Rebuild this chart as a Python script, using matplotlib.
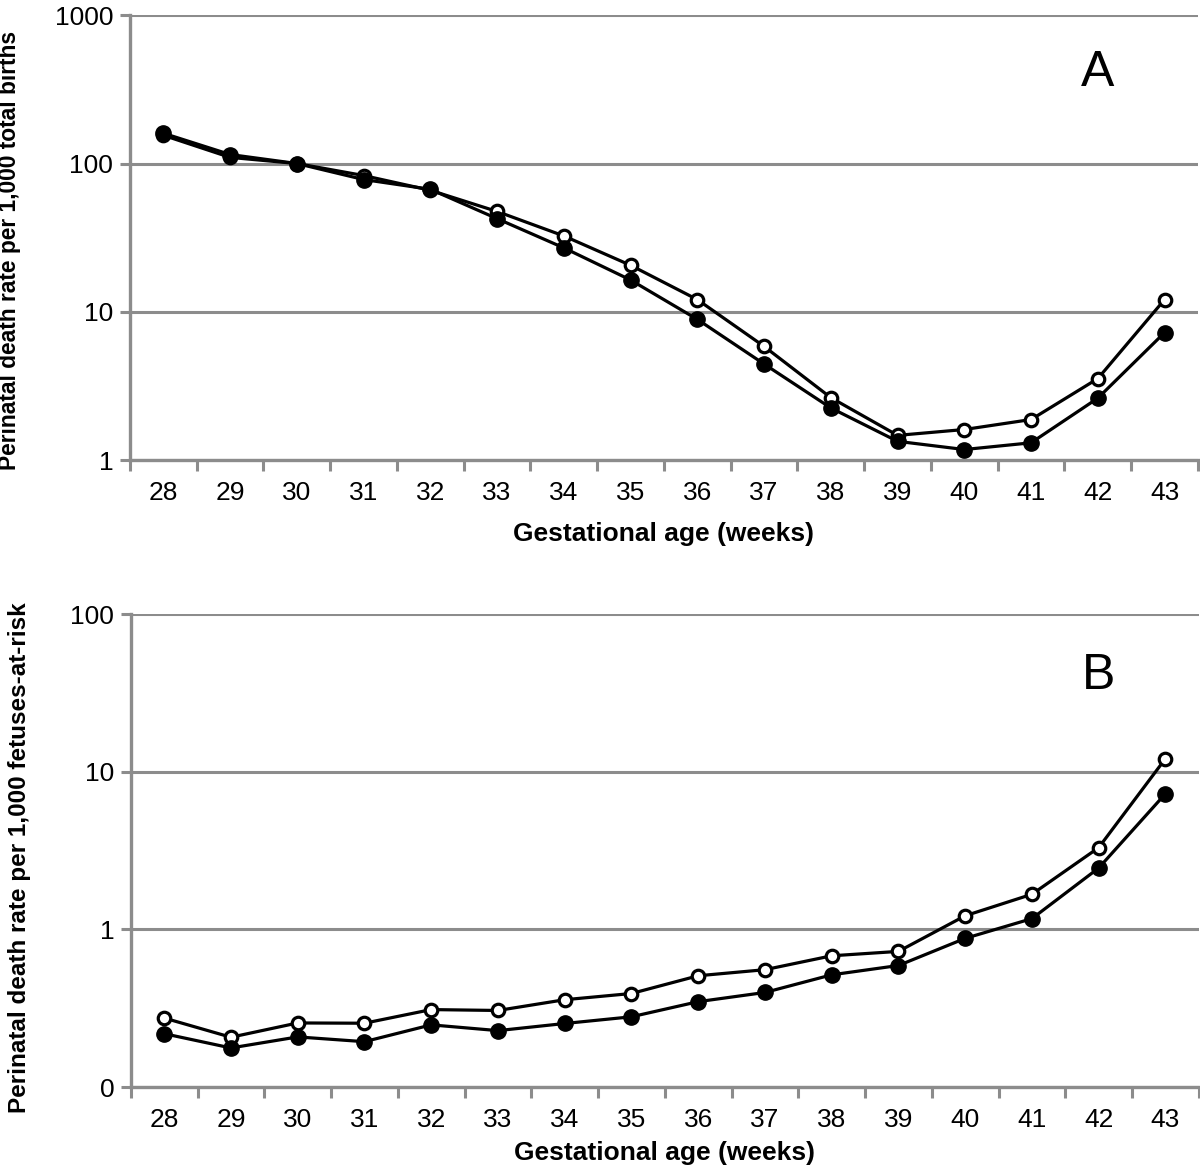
import matplotlib.pyplot as plt
from matplotlib.ticker import FixedLocator, FixedFormatter, NullFormatter

plt.rcParams['font.family'] = ['Liberation Sans', 'DejaVu Sans']

semanas = [28, 29, 30, 31, 32, 33, 34, 35, 36, 37, 38, 39, 40, 41, 42, 43]

# painel A: por 1000 nascimentos totais
a_cheio = [160, 115, 100, 78, 67, 42.5, 27, 16.4, 8.9, 4.45, 2.25, 1.34, 1.18, 1.31, 2.62, 7.25]
a_vazio = [155, 110, 100, 83, 66, 47.5, 32.5, 20.6, 12.1, 5.85, 2.64, 1.47, 1.61, 1.88, 3.55, 12.1]

# painel B: por 1000 fetos em risco
b_cheio = [0.218, 0.177, 0.208, 0.194, 0.248, 0.228, 0.253, 0.279, 0.348, 0.398, 0.515, 0.59, 0.877, 1.17, 2.45, 7.25]
b_vazio = [0.274, 0.207, 0.255, 0.254, 0.31, 0.306, 0.358, 0.392, 0.508, 0.555, 0.68, 0.725, 1.22, 1.67, 3.3, 12.1]

ticks_a = [1, 10, 100, 1000]
rotulos_a = ['1', '10', '100', '1000']
ticks_b = [0.1, 1, 10, 100]
rotulos_b = ['0', '1', '10', '100']

cinza = '#8c8c8c'


def painel(ax, cheio, vazio, ticks, rotulos, ylabel, tam_ylabel, letra):
    ax.plot(semanas, vazio, color='black', lw=2.3, marker='o', markersize=9,
            markerfacecolor='white', markeredgecolor='black', markeredgewidth=2.3, zorder=3)
    ax.plot(semanas, cheio, color='black', lw=2.3, marker='o', markersize=11,
            markerfacecolor='black', markeredgecolor='black', zorder=4)
    ax.set_yscale('log')
    ax.set_ylim(ticks[0], ticks[-1])
    ax.yaxis.set_major_locator(FixedLocator(ticks))
    ax.yaxis.set_major_formatter(FixedFormatter(rotulos))
    ax.yaxis.set_minor_locator(FixedLocator([]))
    ax.yaxis.set_minor_formatter(NullFormatter())
    ax.set_xlim(27.5, 43.5)
    ax.set_xticks(semanas)
    ax.set_xticks([s - 0.5 for s in semanas] + [43.5], minor=True)
    ax.tick_params(axis='x', which='major', length=0, pad=15, labelsize=19)
    ax.tick_params(axis='x', which='minor', length=8, width=2.2, color=cinza, direction='out')
    ax.tick_params(axis='y', which='major', length=7, width=2.2, color=cinza, pad=5, labelsize=19)
    ax.grid(axis='y', color=cinza, lw=2.2)
    ax.set_axisbelow(True)
    for lado in ['top', 'right']:
        ax.spines[lado].set_visible(False)
    for lado in ['left', 'bottom']:
        ax.spines[lado].set_color(cinza)
        ax.spines[lado].set_linewidth(2.4)
    ax.set_ylabel(ylabel, fontsize=tam_ylabel, fontweight='bold')
    ax.set_xlabel('Gestational age (weeks)', fontsize=19, fontweight='bold')
    ax.text(0.906, 0.87, letra, transform=ax.transAxes, fontsize=36,
            ha='center', va='center')


fig = plt.figure(figsize=(12, 11.68), dpi=100)
ax1 = fig.add_axes([0.1083, 0.606, 0.89, 0.381])
ax2 = fig.add_axes([0.109, 0.0693, 0.89, 0.405])

painel(ax1, a_cheio, a_vazio, ticks_a, rotulos_a,
       'Perinatal death rate per 1,000 total births', 16.4, 'A')
painel(ax2, b_cheio, b_vazio, ticks_b, rotulos_b,
       'Perinatal death rate per 1,000 fetuses-at-risk', 17.5, 'B')
ax1.yaxis.set_label_coords(-0.102, 0.472)
ax2.yaxis.set_label_coords(-0.093, 0.484)
ax1.xaxis.set_label_coords(0.5, -0.14)
ax2.xaxis.set_label_coords(0.5, -0.113)

fig.savefig('out.png', dpi=100)
